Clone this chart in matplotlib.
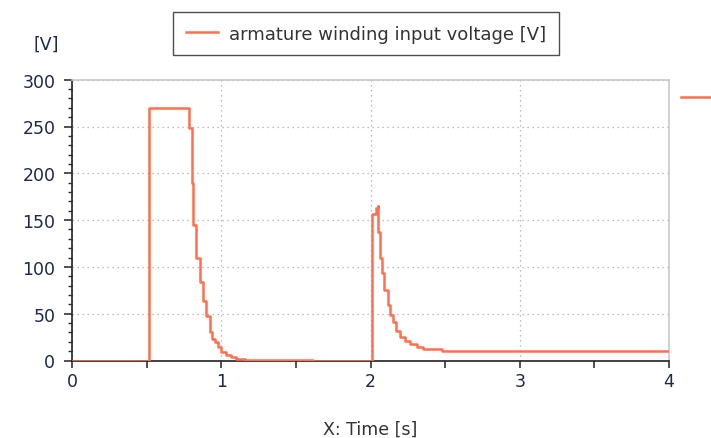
import matplotlib.pyplot as plt
from matplotlib.lines import Line2D
from matplotlib.ticker import MultipleLocator

# --- DONNEES ---
time_s = [0, 0.515, 0.783, 0.805, 0.810, 0.834, 0.855, 0.877, 0.899, 0.922,
          0.940, 0.955, 0.978, 1.0, 1.034, 1.067, 1.10, 1.157, 1.615,
          2.013, 2.034, 2.047, 2.051, 2.063, 2.074, 2.092, 2.119, 2.134,
          2.152, 2.174, 2.197, 2.230, 2.264, 2.309, 2.353, 2.477, 4.0]
voltage_v = [0, 270, 248, 190, 145, 110, 84, 64, 48, 30,
             23, 19.6, 14, 9.6, 6, 3.6, 1.8, 0.8, 0,
             157, 163, 165, 137, 110, 94, 75, 59, 49,
             41, 32, 25, 21, 18, 14, 12, 10, 10]

series_label = "armature winding input voltage [V]"
xticks = [0, 1, 2, 3, 4]
yticks = [0, 50, 100, 150, 200, 250, 300]

line_color = "#ff6f50"
label_color = "#1c2a4a"

plt.rcParams['font.family'] = ['DejaVu Sans']

fig = plt.figure(figsize=(7.11, 4.39), dpi=100)
ax = fig.add_axes([72 / 711, 1 - 361.5 / 439, (669 - 72) / 711, (361.5 - 80.7) / 439])

ax.plot(time_s, voltage_v, drawstyle='steps-post', color=line_color, lw=1.8,
        label=series_label, zorder=3)

ax.set_xlim(0, 4)
ax.set_ylim(0, 300)
ax.set_xticks(xticks)
ax.set_yticks(yticks)
ax.xaxis.set_minor_locator(MultipleLocator(0.5))
ax.yaxis.set_minor_locator(MultipleLocator(10))
ax.tick_params(axis='both', which='major', labelsize=12.5, labelcolor=label_color,
               color='#333333', width=1.2, direction='out')
ax.tick_params(axis='y', which='major', length=6, pad=6)
ax.tick_params(axis='x', which='major', length=5, pad=3)
ax.tick_params(axis='y', which='minor', length=3, color='#333333', width=1.0)
ax.tick_params(axis='x', which='minor', length=5, color='#333333', width=1.2)

# grille pointillee
ax.grid(True, which='major', linestyle=(0, (1, 3)), color='#a8a8a8', lw=0.9)

for side in ['left', 'bottom']:
    ax.spines[side].set_color('#222222')
    ax.spines[side].set_linewidth(1.2)
for side in ['top', 'right']:
    ax.spines[side].set_color('#c8c8c8')
    ax.spines[side].set_linewidth(1.2)

ax.set_xlabel("X: Time [s]", fontsize=12.5, color='#333333', labelpad=22)
fig.text(46 / 711, 1 - 45 / 439, "[V]", fontsize=12.5, color=label_color,
         ha='center', va='center')

leg = fig.legend(loc='upper center', bbox_to_anchor=(366 / 711, 1 - 13 / 439),
                 fontsize=13, frameon=True, fancybox=False, handlelength=1.8,
                 borderpad=0.7, handletextpad=0.6, borderaxespad=0)
leg.get_frame().set_edgecolor('#222222')
leg.get_frame().set_linewidth(1.0)
for txt in leg.get_texts():
    txt.set_color('#333333')

# bout de legende coupe a droite
fig.add_artist(Line2D([681 / 711, 1.0], [1 - 98 / 439] * 2, color=line_color, lw=1.8))

fig.savefig("out.png", dpi=100)
